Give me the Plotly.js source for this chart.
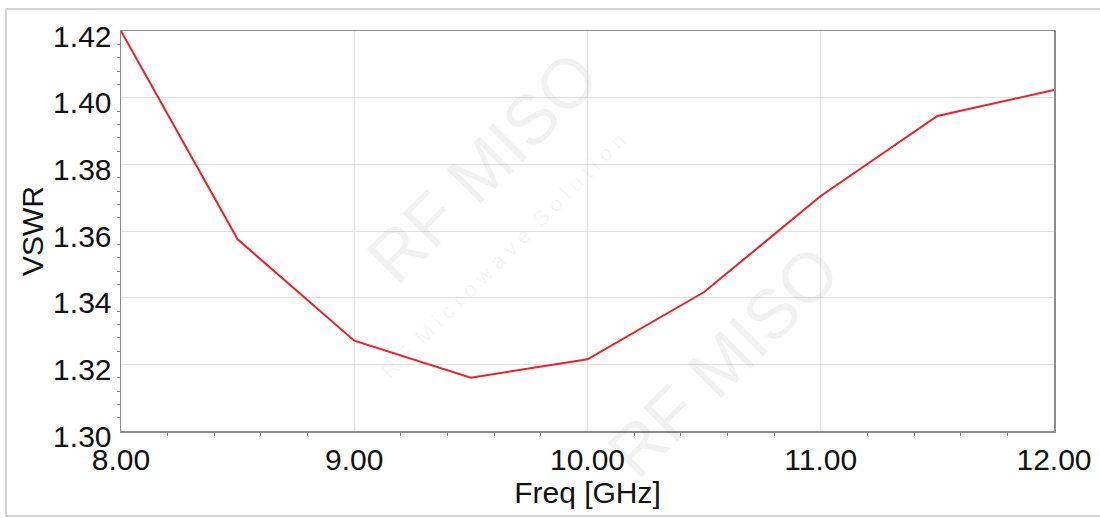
<!DOCTYPE html>
<html>
<head>
<meta charset="utf-8">
<script src="https://cdn.plot.ly/plotly-3.0.1.min.js"></script>
<style>
  html, body { margin: 0; padding: 0; background: #fff; }
  #wrap { position: relative; width: 1100px; height: 518px; overflow: hidden; }
  #frame { position: absolute; left: 5px; top: 8px; width: 1200px; height: 505px; border: 2px solid #d4d4d4; pointer-events: none; }
  #chart { position: absolute; left: 0; top: 0; width: 1100px; height: 518px; }
</style>
</head>
<body>
<div id="wrap">
  <div id="chart"></div>
  <div id="frame"></div>
</div>
<script>
const freqGHz = [8.0, 8.5, 9.0, 9.5, 10.0, 10.5, 11.0, 11.5, 12.0];
const vswr    = [1.420, 1.3575, 1.3271, 1.3160, 1.3215, 1.3417, 1.3705, 1.3945, 1.4023];
const xTitle = 'Freq [GHz]';
const yTitle = 'VSWR';
const watermarkMain = 'RF MISO';
const watermarkSub = 'R F  M i c r o w a v e  S o l u t i o n';

const trace = {
  x: freqGHz, y: vswr, type: 'scatter', mode: 'lines',
  line: { color: 'rgb(232,34,44)', width: 2 },
  hoverinfo: 'skip'
};

const tickFont = { family: 'Liberation Sans, Arial, sans-serif', size: 30, color: '#111' };
const titleFont = { family: 'Liberation Sans, Arial, sans-serif', size: 30, color: '#111' };
const wmColor = 'rgba(0,0,0,0.055)';

const layout = {
  width: 1100, height: 518,
  margin: { l: 121, r: 46, t: 31, b: 87, pad: 0 },
  paper_bgcolor: 'rgba(0,0,0,0)', plot_bgcolor: '#fff',
  showlegend: false,
  xaxis: {
    range: [8, 12], dtick: 1, tick0: 8, tickformat: '.2f',
    showgrid: true, gridcolor: '#e2e2e2', gridwidth: 1,
    showline: true, linecolor: '#8c8c8c', linewidth: 1.5, mirror: true,
    ticks: '', ticklabelstandoff: 1,
    minor: { dtick: 0.2, ticks: 'outside', ticklen: 3, tickcolor: '#888', showgrid: false },
    tickfont: tickFont, zeroline: false,
    title: { text: xTitle, font: titleFont, standoff: 2 }
  },
  yaxis: {
    range: [1.30, 1.42], dtick: 0.02, tick0: 1.30, tickformat: '.2f',
    showgrid: true, gridcolor: '#e2e2e2', gridwidth: 1,
    showline: true, linecolor: '#8c8c8c', linewidth: 1.5, mirror: true,
    ticks: '', ticklabelstandoff: 2, ticklabelshift: 5,
    minor: { dtick: 0.004, ticks: 'outside', ticklen: 3, tickcolor: '#888', showgrid: false },
    tickfont: tickFont, zeroline: false,
    title: { text: yTitle, font: titleFont, standoff: 0 }
  },
  annotations: [
    { text: watermarkMain, xref: 'paper', yref: 'paper', x: 0.245, y: 0.66, showarrow: false,
      textangle: -45, font: { family: 'Liberation Sans, Arial, sans-serif', size: 70, color: wmColor } },
    { text: watermarkSub, xref: 'paper', yref: 'paper', x: 0.27, y: 0.44, showarrow: false,
      textangle: -45, font: { family: 'Liberation Sans, Arial, sans-serif', size: 22, color: wmColor } },
    { text: watermarkMain, xref: 'paper', yref: 'paper', x: 0.79, y: -0.16, showarrow: false,
      textangle: -45, font: { family: 'Liberation Sans, Arial, sans-serif', size: 70, color: wmColor } }
  ]
};

Plotly.newPlot('chart', [trace], layout, { staticPlot: true, displayModeBar: false });
</script>
</body>
</html>
